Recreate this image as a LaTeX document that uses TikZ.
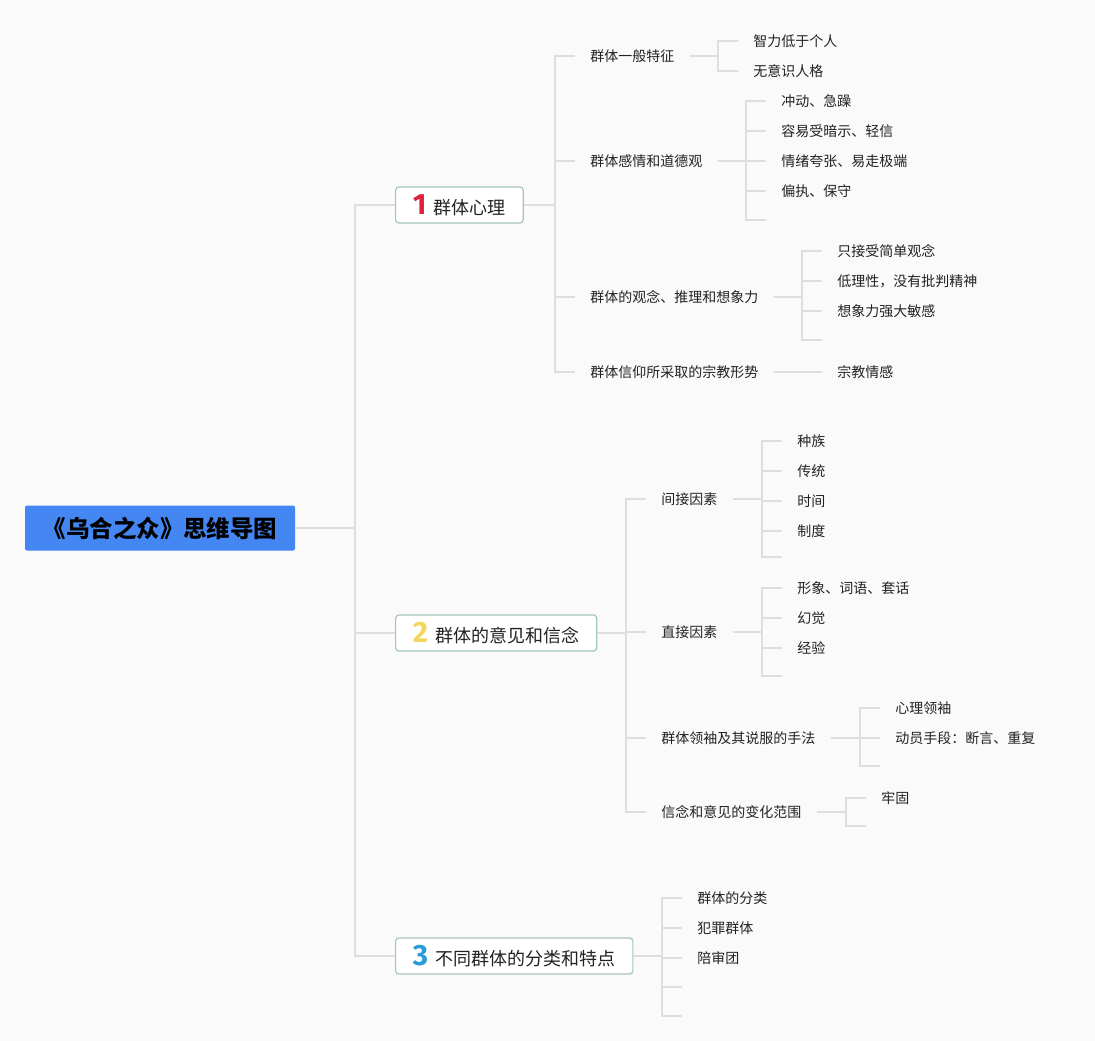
\documentclass[tikz,border=0pt]{standalone}
\usepackage{fontspec}
\setmainfont{Noto Sans CJK SC}
\newfontfamily\numfont{Fira Sans}
\usepackage{xcolor}
\usepackage{tikz}
\usetikzlibrary{calc}

\definecolor{bgcol}{HTML}{FAFAFA}
\definecolor{linecol}{HTML}{DEDEDE}
\definecolor{boxcol}{HTML}{A3C6BB}
\definecolor{rootcol}{HTML}{4486F2}
\definecolor{textcol}{HTML}{222222}
\definecolor{onecol}{HTML}{E0203C}
\definecolor{twocol}{HTML}{F4D65C}
\definecolor{threecol}{HTML}{2A9BDA}

\newcommand{\topicnum}[2]{{\numfont\bfseries\fontsize{22}{22}\selectfont\color{#1}#2}\hspace{5.5pt}}

\begin{document}
\begin{tikzpicture}[x=0.75pt, y=-0.75pt,
    link/.style={draw=linecol, line width=1.2pt},
    elbow/.style={to path={-- ($(\tikztotarget |- \tikztostart)+(-#1,0)$) |- (\tikztotarget)}},
    elbow/.default=20,
    root/.style={fill=rootcol, rounded corners=1.5pt, minimum width=202.5pt, minimum height=33.75pt,
        inner sep=0pt, font=\bfseries\fontsize{17.6}{20}\selectfont},
    topic/.style={draw=boxcol, fill=white, rounded corners=2.5pt, line width=0.9pt, anchor=west,
        minimum height=27pt, inner xsep=13pt, inner ysep=0pt, text=textcol, font=\fontsize{13.5}{16}\selectfont},
    leaf/.style={anchor=west, inner xsep=11.25pt, inner ysep=1pt, text=textcol, font=\fontsize{10.5}{12}\selectfont}]

    % Background
    \fill[bgcol] (0,0) rectangle (1095,1041);
    \useasboundingbox (0,0) rectangle (1095,1041);

    % Root and topics
    \node[root] (root) at (160,528) {《乌合之众》思维导图};
    \node[topic] (t1) at (395,205) {\topicnum{onecol}{1}群体心理};
    \node[topic] (t2) at (395,633) {\topicnum{twocol}{2}群体的意见和信念};
    \node[topic] (t3) at (395,956) {\topicnum{threecol}{3}不同群体的分类和特点};

    % Topic 1
    \node[leaf] (a1) at (575,56) {群体一般特征};
    \node[leaf] (a2) at (575,161) {群体感情和道德观};
    \node[leaf] (a3) at (575,297) {群体的观念、推理和想象力};
    \node[leaf] (a4) at (575,372) {群体信仰所采取的宗教形势};

    \node[leaf] (a11) at (738,41) {智力低于个人};
    \node[leaf] (a12) at (738,71) {无意识人格};

    \node[leaf] (a21) at (766,101) {冲动、急躁};
    \node[leaf] (a22) at (766,131) {容易受暗示、轻信};
    \node[leaf] (a23) at (766,161) {情绪夸张、易走极端};
    \node[leaf] (a24) at (766,191) {偏执、保守};
    \coordinate (a25) at (766,220);

    \node[leaf] (a31) at (822,251) {只接受简单观念};
    \node[leaf] (a32) at (822,281) {低理性，没有批判精神};
    \node[leaf] (a33) at (822,311) {想象力强大敏感};
    \coordinate (a34) at (822,340);

    \node[leaf] (a41) at (822,372) {宗教情感};

    % Topic 2
    \node[leaf] (b1) at (646,499) {间接因素};
    \node[leaf] (b2) at (646,632) {直接因素};
    \node[leaf] (b3) at (646,738) {群体领袖及其说服的手法};
    \node[leaf] (b4) at (646,812) {信念和意见的变化范围};

    \node[leaf] (b11) at (782,441) {种族};
    \node[leaf] (b12) at (782,471) {传统};
    \node[leaf] (b13) at (782,501) {时间};
    \node[leaf] (b14) at (782,531) {制度};
    \coordinate (b15) at (782,557);

    \node[leaf] (b21) at (782,588) {形象、词语、套话};
    \node[leaf] (b22) at (782,618) {幻觉};
    \node[leaf] (b23) at (782,648) {经验};
    \coordinate (b24) at (782,676);

    \node[leaf] (b31) at (880,708) {心理领袖};
    \node[leaf] (b32) at (880,738) {动员手段：断言、重复};
    \coordinate (b33) at (880,766);

    \node[leaf] (b41) at (866,798) {牢固};
    \coordinate (b42) at (866,826);

    % Topic 3
    \node[leaf] (c1) at (682,898) {群体的分类};
    \node[leaf] (c2) at (682,928) {犯罪群体};
    \node[leaf] (c3) at (682,958) {陪审团};
    \coordinate (c4) at (682,987);
    \coordinate (c5) at (682,1016);

    % Connectors
    \draw[link] (root.east) to[elbow=40] (t1.west) (root.east) to[elbow=40] (t2.west)
        (root.east) to[elbow=40] (t3.west);

    \draw[link] (t1.east) to[elbow] (a1.west) (t1.east) to[elbow] (a2.west)
        (t1.east) to[elbow] (a3.west) (t1.east) to[elbow] (a4.west);
    \draw[link] (a1.east) to[elbow] (a11.west) (a1.east) to[elbow] (a12.west);
    \draw[link] (a2.east) to[elbow] (a21.west) (a2.east) to[elbow] (a22.west) (a2.east) to[elbow] (a23.west)
        (a2.east) to[elbow] (a24.west) (a2.east) to[elbow] (a25);
    \draw[link] (a3.east) to[elbow] (a31.west) (a3.east) to[elbow] (a32.west)
        (a3.east) to[elbow] (a33.west) (a3.east) to[elbow] (a34);
    \draw[link] (a4.east) -- (a41.west);

    \draw[link] (t2.east) to[elbow] (b1.west) (t2.east) to[elbow] (b2.west)
        (t2.east) to[elbow] (b3.west) (t2.east) to[elbow] (b4.west);
    \draw[link] (b1.east) to[elbow] (b11.west) (b1.east) to[elbow] (b12.west) (b1.east) to[elbow] (b13.west)
        (b1.east) to[elbow] (b14.west) (b1.east) to[elbow] (b15);
    \draw[link] (b2.east) to[elbow] (b21.west) (b2.east) to[elbow] (b22.west)
        (b2.east) to[elbow] (b23.west) (b2.east) to[elbow] (b24);
    \draw[link] (b3.east) to[elbow] (b31.west) (b3.east) to[elbow] (b32.west) (b3.east) to[elbow] (b33);
    \draw[link] (b4.east) to[elbow] (b41.west) (b4.east) to[elbow] (b42);

    \draw[link] (t3.east) to[elbow] (c1.west) (t3.east) to[elbow] (c2.west) (t3.east) to[elbow] (c3.west)
        (t3.east) to[elbow] (c4) (t3.east) to[elbow] (c5);
\end{tikzpicture}
\end{document}
